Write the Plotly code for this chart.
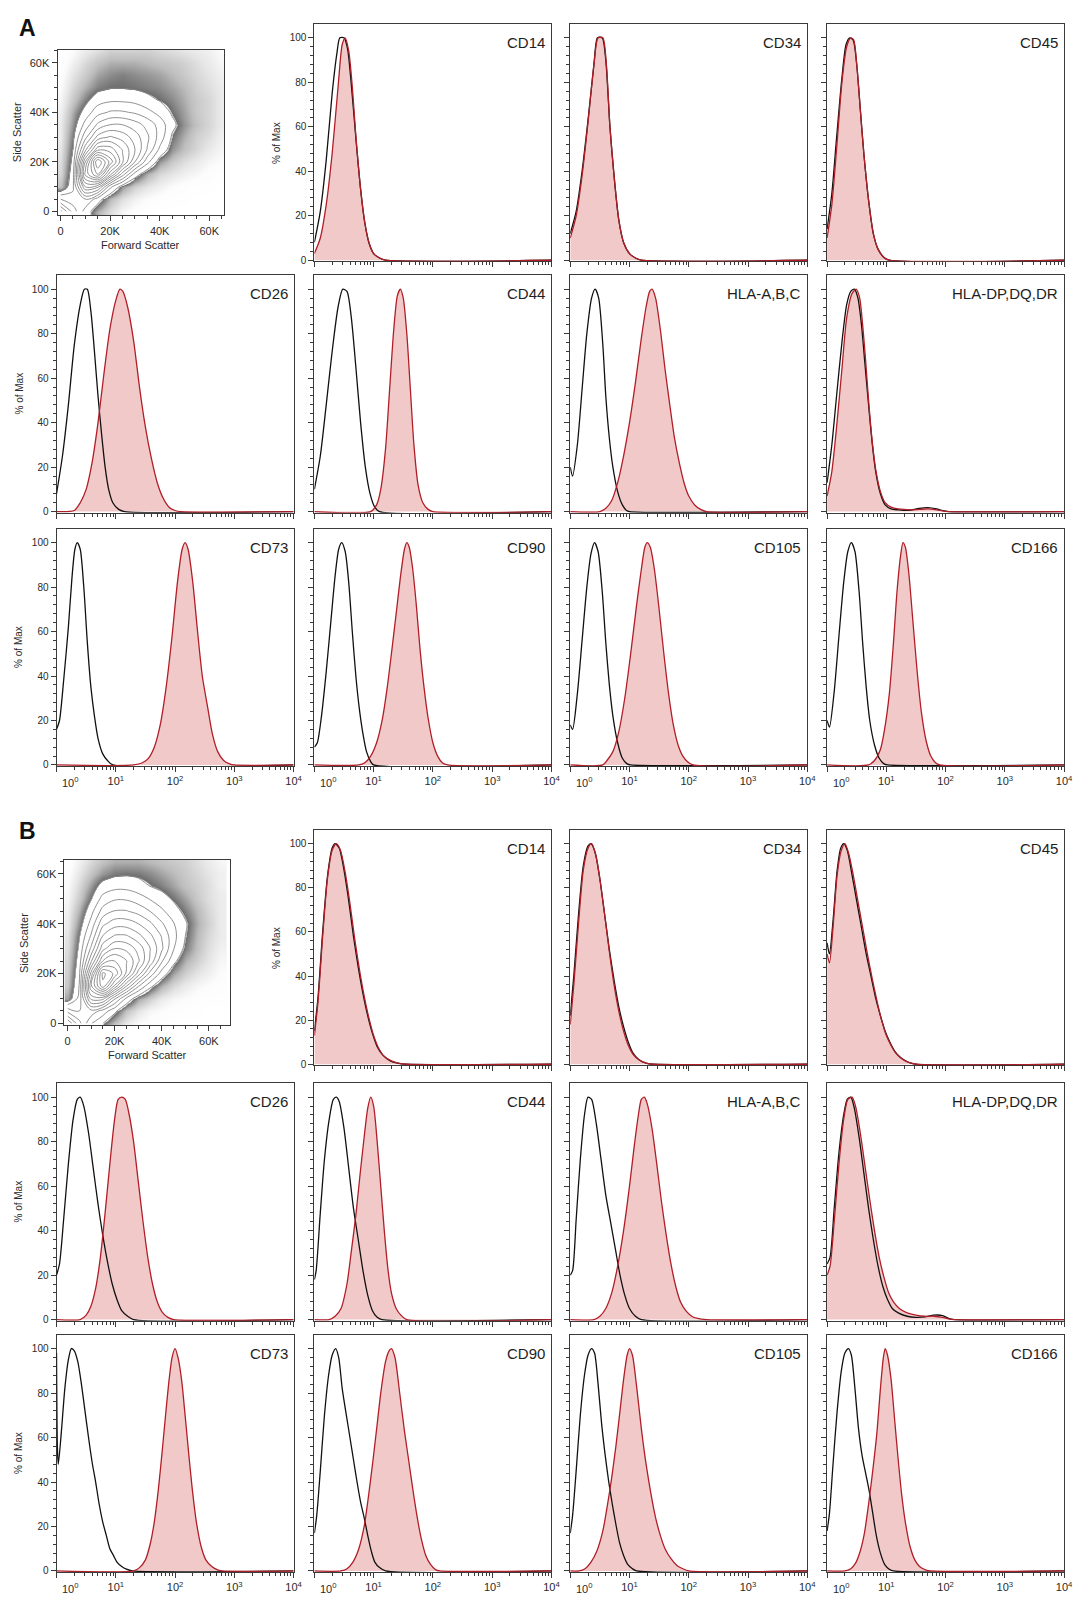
import plotly.graph_objects as go

# ---------------------------------------------------------------- data
DECADE_TICKS = [1, 10, 100, 1000, 10000]
DECADE_LABELS = ["10<sup>0</sup>", "10<sup>1</sup>", "10<sup>2</sup>", "10<sup>3</sup>", "10<sup>4</sup>"]
PCT_TICKS = [0, 20, 40, 60, 80, 100]
PCT_MINOR = [v for v in range(4, 104, 4) if v % 20]
SCATTER_TICKS = [0, 20000, 40000, 60000]
SCATTER_LABELS = ["0", "20K", "40K", "60K"]
SCATTER_MINOR = [v for v in range(5000, 70000, 5000) if v % 20000]
LOG_MINOR = [m * 10 ** d for d in range(4) for m in range(2, 10)]

MARKER_GRID = [["", "CD14", "CD34", "CD45"],
               ["CD26", "CD44", "HLA-A,B,C", "HLA-DP,DQ,DR"],
               ["CD73", "CD90", "CD105", "CD166"]]

# scatter density (rows: side scatter 0..65K, columns: forward scatter 0..65K)
FSC_K = [0, 5, 10, 15, 20, 25, 30, 35, 40, 45, 50, 55, 60, 65]
SSC_K = [0, 5, 10, 15, 20, 25, 30, 35, 40, 45, 50, 55, 60, 65]
A_DENSITY = [
    [6.0, 4.0, 2.4, 1.4, 0.8, 0.4, 0.2, 0.1, 0.0, 0.0, 0.0, 0.0, 0.0, 0.0],
    [3.5, 3.0, 3.5, 2.4, 1.3, 0.8, 0.5, 0.3, 0.2, 0.1, 0.1, 0.0, 0.0, 0.0],
    [1.2, 2.6, 6.5, 6.0, 3.0, 1.6, 1.0, 0.7, 0.5, 0.3, 0.2, 0.1, 0.1, 0.0],
    [0.9, 2.4, 9.0, 11.0, 7.5, 4.6, 2.4, 1.4, 0.9, 0.7, 0.5, 0.4, 0.2, 0.1],
    [0.8, 2.2, 8.0, 12.5, 10.0, 7.4, 5.0, 3.0, 1.6, 1.1, 0.8, 0.6, 0.4, 0.3],
    [0.7, 2.0, 5.5, 8.5, 8.4, 7.2, 5.8, 4.2, 2.6, 1.6, 1.2, 0.9, 0.6, 0.4],
    [0.6, 1.8, 4.0, 6.0, 6.6, 6.2, 5.4, 4.4, 3.2, 1.9, 1.4, 1.0, 0.8, 0.5],
    [0.6, 1.6, 3.0, 4.4, 5.0, 5.0, 4.6, 4.0, 3.2, 2.2, 1.6, 1.2, 0.9, 0.6],
    [0.5, 1.4, 2.3, 3.2, 3.6, 3.6, 3.4, 3.0, 2.5, 1.9, 1.5, 1.1, 0.9, 0.6],
    [0.4, 1.1, 1.8, 2.4, 2.6, 2.6, 2.5, 2.2, 1.95, 1.7, 1.4, 1.1, 0.9, 0.6],
    [0.3, 0.9, 1.4, 1.8, 1.95, 1.95, 1.9, 1.8, 1.7, 1.5, 1.3, 1.0, 0.8, 0.6],
    [0.2, 0.7, 1.1, 1.5, 1.7, 1.8, 1.7, 1.6, 1.5, 1.3, 1.1, 0.9, 0.7, 0.5],
    [0.1, 0.5, 0.9, 1.2, 1.4, 1.4, 1.4, 1.3, 1.2, 1.1, 1.0, 0.8, 0.6, 0.4],
    [0.0, 0.3, 0.6, 0.8, 1.0, 1.0, 1.0, 1.0, 0.9, 0.8, 0.7, 0.6, 0.5, 0.3],
]
B_DENSITY = [
    [6.5, 4.5, 2.8, 2.0, 1.2, 0.6, 0.3, 0.2, 0.1, 0.0, 0.0, 0.0, 0.0, 0.0],
    [4.0, 3.5, 4.0, 3.2, 2.2, 1.2, 0.7, 0.4, 0.3, 0.2, 0.1, 0.1, 0.0, 0.0],
    [1.5, 3.0, 6.8, 6.8, 4.4, 2.6, 1.5, 1.0, 0.6, 0.4, 0.3, 0.2, 0.1, 0.1],
    [1.1, 2.8, 8.6, 11.5, 8.6, 5.8, 3.6, 2.2, 1.4, 0.9, 0.6, 0.4, 0.3, 0.2],
    [1.0, 2.6, 7.5, 12.0, 10.8, 8.6, 6.2, 4.0, 2.4, 1.5, 1.0, 0.7, 0.5, 0.3],
    [0.9, 2.4, 5.6, 8.8, 9.6, 8.8, 7.4, 5.6, 3.6, 2.2, 1.4, 1.0, 0.7, 0.4],
    [0.8, 2.2, 4.4, 7.0, 8.0, 7.8, 7.0, 5.8, 4.4, 2.8, 1.8, 1.2, 0.8, 0.5],
    [0.7, 2.0, 3.6, 5.8, 6.6, 6.6, 6.0, 5.2, 4.2, 3.0, 2.0, 1.3, 0.9, 0.6],
    [0.6, 1.7, 3.0, 4.8, 5.4, 5.4, 5.0, 4.4, 3.6, 2.8, 2.1, 1.4, 1.0, 0.6],
    [0.5, 1.4, 2.5, 3.8, 4.3, 4.3, 4.0, 3.5, 2.9, 2.3, 1.8, 1.3, 0.9, 0.6],
    [0.4, 1.1, 2.0, 3.0, 3.4, 3.4, 3.1, 2.7, 2.3, 1.9, 1.5, 1.1, 0.8, 0.6],
    [0.3, 0.9, 1.6, 2.3, 2.5, 2.5, 2.3, 2.0, 1.8, 1.5, 1.2, 1.0, 0.8, 0.5],
    [0.2, 0.7, 1.2, 1.6, 1.85, 1.9, 1.85, 1.7, 1.5, 1.3, 1.1, 0.9, 0.7, 0.5],
    [0.1, 0.5, 0.9, 1.2, 1.4, 1.4, 1.4, 1.3, 1.2, 1.1, 1.0, 0.8, 0.6, 0.4],
]

# histograms: (log10 fluorescence, % of max) ; ISO = isotype control, STAIN = antibody
A_CD14_ISO = [(0, 8), (0.1, 22), (0.2, 45), (0.3, 75), (0.38, 93), (0.43, 100), (0.5, 100), (0.56, 95), (0.62, 80), (0.7, 55), (0.78, 32), (0.85, 17), (0.92, 8), (1.0, 3), (1.1, 1), (1.2, 0), (4, 0)]
A_CD14_STAIN = [(0, 3), (0.1, 10), (0.2, 25), (0.3, 48), (0.4, 78), (0.47, 97), (0.52, 100), (0.58, 94), (0.64, 78), (0.7, 56), (0.78, 32), (0.85, 17), (0.92, 8), (1.0, 3), (1.1, 1), (1.2, 0), (4, 0)]
A_CD34_ISO = [(0, 12), (0.1, 22), (0.2, 40), (0.3, 63), (0.4, 88), (0.46, 100), (0.54, 100), (0.6, 90), (0.67, 60), (0.75, 35), (0.82, 18), (0.9, 8), (1.0, 3), (1.1, 1), (1.2, 0), (4, 0)]
A_CD34_STAIN = [(0, 10), (0.1, 20), (0.2, 38), (0.3, 62), (0.4, 88), (0.47, 100), (0.55, 100), (0.61, 88), (0.67, 60), (0.75, 35), (0.82, 18), (0.9, 8), (1.0, 3), (1.1, 1), (1.2, 0), (4, 0)]
A_CD45_ISO = [(0, 14), (0.08, 30), (0.16, 55), (0.25, 82), (0.32, 97), (0.38, 100), (0.44, 99), (0.5, 88), (0.56, 68), (0.62, 48), (0.7, 27), (0.78, 12), (0.86, 5), (0.95, 1.5), (1.05, 0), (4, 0)]
A_CD45_STAIN = [(0, 10), (0.08, 25), (0.16, 50), (0.25, 80), (0.33, 96), (0.4, 100), (0.45, 99), (0.5, 88), (0.56, 68), (0.62, 48), (0.7, 27), (0.78, 12), (0.86, 5), (0.95, 1.5), (1.05, 0), (4, 0)]
A_CD26_ISO = [(0, 8), (0.1, 25), (0.2, 48), (0.3, 75), (0.4, 93), (0.47, 100), (0.52, 100), (0.58, 90), (0.64, 72), (0.7, 52), (0.76, 35), (0.82, 20), (0.88, 10), (0.95, 4), (1.05, 1), (1.15, 0), (4, 0)]
A_CD26_STAIN = [(0, 0), (0.3, 0.5), (0.4, 4), (0.5, 10), (0.6, 22), (0.7, 40), (0.8, 62), (0.9, 82), (1.0, 95), (1.07, 100), (1.12, 99), (1.2, 92), (1.3, 77), (1.4, 56), (1.5, 38), (1.6, 24), (1.7, 13), (1.8, 6), (1.9, 2), (2.0, 0.5), (2.1, 0), (4, 0)]
A_CD44_ISO = [(0, 10), (0.1, 25), (0.2, 48), (0.3, 72), (0.4, 92), (0.48, 100), (0.55, 99), (0.62, 88), (0.7, 65), (0.78, 40), (0.86, 20), (0.94, 8), (1.02, 2), (1.1, 0), (4, 0)]
A_CD44_STAIN = [(0, 0), (0.95, 0), (1.05, 3), (1.12, 10), (1.2, 28), (1.27, 55), (1.34, 82), (1.4, 97), (1.45, 100), (1.5, 96), (1.56, 80), (1.62, 55), (1.68, 30), (1.75, 12), (1.83, 4), (1.92, 1), (2.0, 0), (4, 0)]
A_HLAABC_ISO = [(0, 20), (0.04, 16), (0.12, 30), (0.2, 55), (0.28, 80), (0.36, 96), (0.42, 100), (0.48, 96), (0.55, 75), (0.6, 52), (0.66, 33), (0.72, 20), (0.8, 9), (0.88, 3), (0.95, 0.5), (1.0, 0), (4, 0)]
A_HLAABC_STAIN = [(0, 0), (0.5, 0), (0.6, 1.5), (0.7, 5), (0.8, 13), (0.9, 25), (1.0, 40), (1.1, 58), (1.2, 78), (1.28, 92), (1.34, 99), (1.38, 100), (1.44, 96), (1.52, 82), (1.6, 64), (1.68, 48), (1.76, 33), (1.84, 22), (1.92, 13), (2.0, 7), (2.1, 3), (2.2, 1), (2.3, 0), (4, 0)]
A_HLADR_ISO = [(0, 13), (0.08, 30), (0.16, 52), (0.25, 76), (0.33, 93), (0.4, 99), (0.46, 100), (0.52, 96), (0.58, 84), (0.64, 66), (0.7, 48), (0.76, 31), (0.82, 18), (0.9, 8), (0.98, 3), (1.08, 1.2), (1.2, 0.8), (1.4, 0.6), (1.55, 1.4), (1.7, 1.8), (1.85, 1.2), (1.95, 0.4), (2.05, 0), (4, 0)]
A_HLADR_STAIN = [(0, 7), (0.08, 18), (0.16, 38), (0.25, 64), (0.33, 87), (0.42, 98), (0.49, 100), (0.55, 96), (0.6, 84), (0.65, 68), (0.7, 50), (0.76, 32), (0.82, 19), (0.9, 9), (0.98, 4), (1.08, 2), (1.2, 1.2), (1.4, 0.8), (1.55, 1), (1.7, 1.2), (1.85, 0.8), (1.95, 0.3), (2.05, 0), (4, 0)]
A_CD73_ISO = [(0, 16), (0.05, 20), (0.12, 38), (0.2, 62), (0.26, 84), (0.31, 97), (0.35, 100), (0.4, 97), (0.46, 80), (0.52, 55), (0.58, 35), (0.64, 22), (0.7, 12), (0.78, 5), (0.86, 2), (0.95, 0), (4, 0)]
A_CD73_STAIN = [(0, 0), (1.3, 0), (1.45, 1), (1.55, 3), (1.65, 8), (1.75, 18), (1.85, 35), (1.95, 58), (2.04, 82), (2.12, 97), (2.17, 100), (2.22, 97), (2.3, 82), (2.38, 60), (2.46, 40), (2.55, 26), (2.63, 14), (2.72, 6), (2.82, 2), (2.92, 0.5), (3.0, 0), (4, 0)]
A_CD90_ISO = [(0, 8), (0.05, 10), (0.12, 22), (0.2, 42), (0.28, 65), (0.35, 85), (0.41, 97), (0.46, 100), (0.52, 96), (0.58, 82), (0.64, 60), (0.7, 40), (0.76, 25), (0.82, 14), (0.88, 6), (0.95, 1.5), (1.0, 0), (4, 0)]
A_CD90_STAIN = [(0, 0), (0.75, 0), (0.85, 1), (0.95, 4), (1.05, 10), (1.15, 21), (1.23, 35), (1.3, 50), (1.38, 68), (1.45, 84), (1.52, 97), (1.56, 100), (1.6, 98), (1.66, 88), (1.72, 72), (1.78, 53), (1.85, 35), (1.92, 21), (2.0, 10), (2.08, 4), (2.16, 1), (2.25, 0), (4, 0)]
A_CD105_ISO = [(0, 18), (0.04, 16), (0.12, 32), (0.2, 56), (0.28, 80), (0.35, 95), (0.41, 100), (0.47, 96), (0.54, 78), (0.6, 55), (0.66, 36), (0.72, 22), (0.8, 10), (0.88, 3), (0.96, 0.5), (1.02, 0), (4, 0)]
A_CD105_STAIN = [(0, 0), (0.55, 0), (0.62, 2), (0.72, 6), (0.82, 15), (0.92, 30), (1.02, 50), (1.12, 72), (1.2, 88), (1.26, 98), (1.3, 100), (1.35, 98), (1.42, 88), (1.5, 70), (1.58, 50), (1.66, 32), (1.74, 18), (1.82, 9), (1.9, 4), (1.98, 1.5), (2.07, 0), (4, 0)]
A_CD166_ISO = [(0, 20), (0.04, 17), (0.12, 33), (0.2, 58), (0.28, 82), (0.35, 96), (0.41, 100), (0.47, 96), (0.54, 78), (0.6, 55), (0.66, 35), (0.72, 20), (0.8, 9), (0.88, 3), (0.96, 0.5), (1.02, 0), (4, 0)]
A_CD166_STAIN = [(0, 0), (0.7, 0), (0.8, 2), (0.9, 7), (0.97, 16), (1.05, 32), (1.12, 55), (1.18, 78), (1.24, 94), (1.28, 100), (1.32, 98), (1.38, 86), (1.45, 64), (1.52, 42), (1.59, 24), (1.67, 11), (1.75, 4), (1.83, 1), (1.9, 0), (4, 0)]

B_CD14_ISO = [(0, 15), (0.06, 30), (0.14, 60), (0.22, 85), (0.3, 98), (0.35, 100), (0.42, 98), (0.5, 88), (0.58, 74), (0.66, 58), (0.74, 44), (0.82, 32), (0.9, 22), (0.98, 14), (1.06, 8), (1.16, 4), (1.28, 1.5), (1.4, 0.5), (1.55, 0), (4, 0)]
B_CD14_STAIN = [(0, 13), (0.06, 28), (0.14, 58), (0.22, 84), (0.3, 97), (0.37, 100), (0.44, 97), (0.52, 87), (0.6, 73), (0.68, 57), (0.76, 43), (0.84, 31), (0.92, 21), (1.0, 13), (1.08, 7.5), (1.18, 3.5), (1.3, 1.5), (1.42, 0.5), (1.55, 0), (4, 0)]
B_CD34_ISO = [(0, 22), (0.06, 40), (0.14, 68), (0.22, 90), (0.3, 99), (0.35, 100), (0.42, 96), (0.5, 84), (0.58, 68), (0.66, 52), (0.74, 38), (0.82, 26), (0.9, 17), (0.98, 10), (1.06, 5), (1.16, 2), (1.28, 0.5), (1.4, 0), (4, 0)]
B_CD34_STAIN = [(0, 18), (0.06, 36), (0.14, 64), (0.22, 88), (0.3, 98), (0.36, 100), (0.43, 95), (0.5, 84), (0.58, 68), (0.66, 51), (0.74, 36), (0.82, 24), (0.9, 15), (0.98, 8.5), (1.06, 4.5), (1.16, 2), (1.28, 0.5), (1.4, 0), (4, 0)]
B_CD45_ISO = [(0, 55), (0.04, 50), (0.1, 65), (0.17, 88), (0.23, 98), (0.28, 100), (0.34, 97), (0.42, 86), (0.5, 74), (0.58, 62), (0.66, 50), (0.74, 40), (0.82, 30), (0.9, 22), (0.98, 15), (1.06, 10), (1.14, 6), (1.24, 3), (1.36, 1), (1.5, 0), (4, 0)]
B_CD45_STAIN = [(0, 50), (0.04, 46), (0.1, 62), (0.17, 86), (0.24, 97), (0.3, 100), (0.36, 96), (0.44, 86), (0.52, 74), (0.6, 62), (0.68, 50), (0.76, 39), (0.84, 29), (0.92, 20), (1.0, 13), (1.08, 8.5), (1.16, 5), (1.26, 2.5), (1.38, 0.8), (1.5, 0), (4, 0)]
B_CD26_ISO = [(0, 20), (0.05, 25), (0.12, 45), (0.2, 70), (0.28, 90), (0.35, 99), (0.4, 100), (0.46, 96), (0.54, 84), (0.62, 68), (0.7, 52), (0.78, 38), (0.86, 26), (0.94, 16), (1.02, 9), (1.1, 4), (1.2, 1.5), (1.3, 0), (4, 0)]
B_CD26_STAIN = [(0, 0), (0.4, 0), (0.5, 2), (0.58, 6), (0.66, 14), (0.74, 28), (0.82, 48), (0.9, 70), (0.98, 90), (1.04, 99), (1.1, 100), (1.16, 99), (1.22, 93), (1.3, 80), (1.38, 62), (1.46, 44), (1.54, 28), (1.62, 16), (1.7, 8), (1.78, 3.5), (1.88, 1), (1.98, 0), (4, 0)]
B_CD44_ISO = [(0, 18), (0.03, 22), (0.1, 48), (0.17, 72), (0.25, 90), (0.32, 99), (0.37, 100), (0.42, 98), (0.5, 86), (0.58, 68), (0.66, 50), (0.74, 36), (0.82, 22), (0.9, 11), (0.98, 4), (1.06, 1), (1.14, 0), (4, 0)]
B_CD44_STAIN = [(0, 0), (0.25, 0), (0.35, 1.5), (0.45, 5), (0.55, 16), (0.62, 30), (0.7, 47), (0.77, 65), (0.84, 82), (0.9, 95), (0.95, 100), (1.0, 96), (1.06, 80), (1.12, 60), (1.18, 40), (1.24, 23), (1.3, 12), (1.38, 5), (1.46, 2), (1.56, 0), (4, 0)]
B_HLAABC_ISO = [(0, 20), (0.04, 22), (0.1, 45), (0.17, 72), (0.24, 92), (0.3, 100), (0.36, 99), (0.44, 88), (0.52, 72), (0.6, 56), (0.68, 44), (0.76, 32), (0.84, 20), (0.92, 11), (1.0, 5), (1.1, 1.5), (1.2, 0), (4, 0)]
B_HLAABC_STAIN = [(0, 0), (0.4, 0), (0.5, 1.5), (0.6, 5), (0.7, 12), (0.8, 24), (0.9, 40), (1.0, 60), (1.08, 78), (1.15, 92), (1.2, 99), (1.25, 100), (1.3, 97), (1.38, 86), (1.46, 70), (1.54, 53), (1.62, 38), (1.7, 25), (1.78, 15), (1.86, 8), (1.95, 4), (2.05, 1.5), (2.15, 0.5), (2.3, 0), (4, 0)]
B_HLADR_ISO = [(0, 25), (0.05, 28), (0.12, 50), (0.2, 75), (0.28, 92), (0.34, 99), (0.4, 100), (0.46, 95), (0.54, 82), (0.62, 66), (0.7, 50), (0.78, 36), (0.86, 24), (0.94, 15), (1.02, 9), (1.1, 5), (1.2, 3), (1.35, 1.5), (1.5, 1), (1.65, 1.2), (1.8, 2), (1.95, 1.8), (2.05, 0.5), (2.15, 0), (4, 0)]
B_HLADR_STAIN = [(0, 20), (0.05, 24), (0.12, 44), (0.2, 70), (0.28, 90), (0.35, 99), (0.42, 100), (0.48, 96), (0.56, 84), (0.64, 69), (0.72, 54), (0.8, 40), (0.88, 28), (0.96, 19), (1.04, 12), (1.12, 8), (1.22, 5), (1.35, 3), (1.5, 2), (1.65, 1.5), (1.8, 1.5), (1.95, 1), (2.05, 0.3), (2.15, 0), (4, 0)]
B_CD73_ISO = [(0, 98), (0.015, 55), (0.03, 48), (0.08, 62), (0.14, 82), (0.2, 95), (0.25, 100), (0.3, 99), (0.36, 94), (0.42, 84), (0.48, 72), (0.54, 60), (0.6, 49), (0.66, 40), (0.72, 30), (0.78, 22), (0.84, 16), (0.9, 10), (0.96, 7), (1.02, 4), (1.1, 2), (1.18, 0.8), (1.28, 0), (4, 0)]
B_CD73_STAIN = [(0, 0), (1.3, 0), (1.4, 1.5), (1.5, 5), (1.58, 12), (1.65, 22), (1.72, 37), (1.78, 53), (1.84, 70), (1.9, 86), (1.95, 96), (2.0, 100), (2.05, 96), (2.11, 86), (2.17, 70), (2.23, 53), (2.29, 37), (2.36, 22), (2.44, 11), (2.52, 5), (2.62, 2), (2.72, 0.5), (2.8, 0), (4, 0)]
B_CD90_ISO = [(0, 17), (0.04, 25), (0.1, 45), (0.17, 70), (0.24, 88), (0.3, 97), (0.36, 100), (0.41, 96), (0.47, 82), (0.54, 70), (0.6, 60), (0.66, 50), (0.72, 40), (0.78, 31), (0.84, 24), (0.9, 16), (0.96, 9), (1.02, 4), (1.1, 1.5), (1.2, 0), (4, 0)]
B_CD90_STAIN = [(0, 0), (0.45, 0), (0.55, 1), (0.65, 4), (0.75, 10), (0.84, 20), (0.92, 35), (0.99, 50), (1.06, 66), (1.12, 80), (1.2, 94), (1.26, 99), (1.3, 100), (1.36, 96), (1.44, 80), (1.52, 63), (1.59, 50), (1.66, 37), (1.73, 25), (1.8, 15), (1.88, 7), (1.96, 3), (2.05, 0.5), (2.12, 0), (4, 0)]
B_CD105_ISO = [(0, 17), (0.04, 25), (0.1, 45), (0.17, 70), (0.24, 88), (0.3, 97), (0.36, 100), (0.41, 98), (0.47, 84), (0.53, 66), (0.59, 52), (0.65, 40), (0.71, 30), (0.77, 21), (0.83, 13), (0.9, 7), (0.97, 3), (1.05, 1), (1.12, 0), (4, 0)]
B_CD105_STAIN = [(0, 0), (0.15, 0), (0.25, 1), (0.35, 4), (0.45, 9), (0.55, 18), (0.63, 30), (0.7, 42), (0.77, 56), (0.84, 72), (0.9, 86), (0.96, 97), (1.0, 100), (1.05, 97), (1.12, 83), (1.2, 64), (1.28, 48), (1.36, 35), (1.44, 24), (1.52, 16), (1.6, 10), (1.7, 5.5), (1.8, 2.5), (1.9, 1), (2.0, 0), (4, 0)]
B_CD166_ISO = [(0, 18), (0.04, 26), (0.1, 48), (0.17, 72), (0.24, 90), (0.3, 98), (0.36, 100), (0.41, 97), (0.47, 82), (0.53, 64), (0.59, 52), (0.65, 44), (0.71, 36), (0.77, 26), (0.83, 16), (0.9, 8), (0.97, 3), (1.05, 0.8), (1.12, 0), (4, 0)]
B_CD166_STAIN = [(0, 0), (0.3, 0), (0.4, 1), (0.48, 3.5), (0.56, 9), (0.63, 17), (0.7, 30), (0.77, 45), (0.84, 62), (0.9, 82), (0.95, 96), (0.98, 100), (1.02, 97), (1.08, 86), (1.14, 68), (1.2, 50), (1.26, 34), (1.32, 22), (1.4, 11), (1.48, 5), (1.56, 2), (1.66, 0.5), (1.75, 0), (4, 0)]

CURVES = {
    "A": {"CD14": (A_CD14_ISO, A_CD14_STAIN), "CD34": (A_CD34_ISO, A_CD34_STAIN),
          "CD45": (A_CD45_ISO, A_CD45_STAIN), "CD26": (A_CD26_ISO, A_CD26_STAIN),
          "CD44": (A_CD44_ISO, A_CD44_STAIN), "HLA-A,B,C": (A_HLAABC_ISO, A_HLAABC_STAIN),
          "HLA-DP,DQ,DR": (A_HLADR_ISO, A_HLADR_STAIN), "CD73": (A_CD73_ISO, A_CD73_STAIN),
          "CD90": (A_CD90_ISO, A_CD90_STAIN), "CD105": (A_CD105_ISO, A_CD105_STAIN),
          "CD166": (A_CD166_ISO, A_CD166_STAIN)},
    "B": {"CD14": (B_CD14_ISO, B_CD14_STAIN), "CD34": (B_CD34_ISO, B_CD34_STAIN),
          "CD45": (B_CD45_ISO, B_CD45_STAIN), "CD26": (B_CD26_ISO, B_CD26_STAIN),
          "CD44": (B_CD44_ISO, B_CD44_STAIN), "HLA-A,B,C": (B_HLAABC_ISO, B_HLAABC_STAIN),
          "HLA-DP,DQ,DR": (B_HLADR_ISO, B_HLADR_STAIN), "CD73": (B_CD73_ISO, B_CD73_STAIN),
          "CD90": (B_CD90_ISO, B_CD90_STAIN), "CD105": (B_CD105_ISO, B_CD105_STAIN),
          "CD166": (B_CD166_ISO, B_CD166_STAIN)},
}
DENSITY = {"A": A_DENSITY, "B": B_DENSITY}

# ---------------------------------------------------------------- layout / style
W, H = 1087, 1603
FONT = "Liberation Sans, Arial, Helvetica, sans-serif"
AX = "#3a3a3a"
TXT = "#2a2a2a"
FILL = "#f1c9c9"
RED = "#b01e28"
BLACK = "#111111"
COL_LEFT = [57, 317, 575, 834]
COL_W = 239
ROWS = {"A": [(24, 262), (276, 514), (530, 768)],
        "B": [(832, 1068), (1086, 1324), (1338, 1576)]}
SCAT_BOX = {"A": (58, 226, 50, 216), "B": (65, 232, 862, 1028)}
SCAT_RANGE = {"A": ([-1200, 66000], [-1600, 65200]), "B": ([-1300, 69000], [-800, 65600])}
LETTER_Y = {"A": 13, "B": 818}
DOT_SCALE = [[0, "#ffffff"], [0.3 / 14, "#fcfcfc"], [0.7 / 14, "#e6e6e6"], [1.3 / 14, "#bcbcbc"],
             [1.97 / 14, "#6c6c6c"], [2.0 / 14, "#ffffff"], [1, "#ffffff"]]


def px(v):
    return v / W


def py(v):
    return 1 - v / H


def ax_name(n, letter):
    return letter if n == 1 else f"{letter}{n}"


def base_axis():
    return dict(showline=True, mirror=True, linecolor=AX, linewidth=1, ticks="outside",
                tickcolor=AX, tickwidth=1, ticklen=5, showgrid=False, zeroline=False,
                tickfont=dict(family=FONT, size=10, color=TXT), fixedrange=True)


fig = go.Figure()
layout_axes = {}
annotations = []
n = 0

for sec in ["A", "B"]:
    annotations.append(dict(text=f"<b>{sec}</b>", xref="paper", yref="paper", x=px(17), y=py(LETTER_Y[sec]),
                            xanchor="left", yanchor="top", showarrow=False,
                            font=dict(family=FONT, size=23, color="#111")))
    # ---- scatter / contour panel
    n += 1
    xn, yn = ax_name(n, "x"), ax_name(n, "y")
    l, r, t, b = SCAT_BOX[sec]
    fsc = [k * 1000 for k in FSC_K]
    ssc = [k * 1000 for k in SSC_K]
    fig.add_trace(go.Heatmap(x=fsc, y=ssc, z=DENSITY[sec], zsmooth="best", zmin=0, zmax=14,
                             colorscale=DOT_SCALE, showscale=False, hoverinfo="skip",
                             xaxis=xn, yaxis=yn))
    fig.add_trace(go.Contour(x=fsc, y=ssc, z=DENSITY[sec], showscale=False, hoverinfo="skip",
                             contours=dict(start=2, end=14, size=0.75, coloring="lines"),
                             colorscale=[[0, "#858585"], [1, "#858585"]],
                             line=dict(width=0.9, smoothing=1.0), xaxis=xn, yaxis=yn))
    xa = base_axis()
    xa.update(domain=[px(l), px(r)], anchor=yn, range=SCAT_RANGE[sec][0], tickmode="array",
              tickvals=SCATTER_TICKS, ticktext=SCATTER_LABELS, tickfont=dict(family=FONT, size=11, color=TXT),
              minor=dict(tickmode="array", tickvals=SCATTER_MINOR, ticks="outside", ticklen=3, tickcolor=AX))
    ya = base_axis()
    ya.update(domain=[py(b), py(t)], anchor=xn, range=SCAT_RANGE[sec][1], tickmode="array",
              tickvals=SCATTER_TICKS, ticktext=SCATTER_LABELS, tickfont=dict(family=FONT, size=11, color=TXT),
              minor=dict(tickmode="array", tickvals=SCATTER_MINOR, ticks="outside", ticklen=3, tickcolor=AX))
    layout_axes["xaxis" if n == 1 else f"xaxis{n}"] = xa
    layout_axes["yaxis" if n == 1 else f"yaxis{n}"] = ya
    dref_x, dref_y = f"{xn} domain", f"{yn} domain"
    annotations.append(dict(text="Forward Scatter", xref=dref_x, yref=dref_y, x=0.5, y=0, yshift=-30,
                            xanchor="center", yanchor="middle", showarrow=False,
                            font=dict(family=FONT, size=11, color=TXT)))
    annotations.append(dict(text="Side Scatter", xref=dref_x, yref=dref_y, x=0, y=0.5, xshift=-41,
                            xanchor="center", yanchor="middle", textangle=-90, showarrow=False,
                            font=dict(family=FONT, size=11, color=TXT)))

    # ---- histogram panels
    for ri, row in enumerate(MARKER_GRID):
        top, bot = ROWS[sec][ri]
        for ci, name in enumerate(row):
            if not name:
                continue
            n += 1
            xn, yn = ax_name(n, "x"), ax_name(n, "y")
            iso, stain = CURVES[sec][name]
            ix = [10 ** p[0] for p in iso]
            iy = [p[1] for p in iso]
            sx = [10 ** p[0] for p in stain]
            sy = [p[1] for p in stain]
            fig.add_trace(go.Scatter(x=sx, y=sy, mode="lines", fill="tozeroy", fillcolor=FILL,
                                     line=dict(width=0, color=FILL, shape="spline", smoothing=0.7),
                                     hoverinfo="skip", xaxis=xn, yaxis=yn))
            fig.add_trace(go.Scatter(x=ix, y=iy, mode="lines",
                                     line=dict(width=1.3, color=BLACK, shape="spline", smoothing=0.7),
                                     hoverinfo="skip", xaxis=xn, yaxis=yn))
            fig.add_trace(go.Scatter(x=sx, y=sy, mode="lines",
                                     line=dict(width=1.3, color=RED, shape="spline", smoothing=0.7),
                                     hoverinfo="skip", xaxis=xn, yaxis=yn))
            left_most = (ci == 0) or (ri == 0 and ci == 1)
            bottom = ri == 2
            l = COL_LEFT[ci]
            xa = base_axis()
            xa.update(type="log", range=[0, 4], domain=[px(l), px(l + COL_W)], anchor=yn,
                      tickmode="array", tickvals=DECADE_TICKS,
                      ticktext=[""] + DECADE_LABELS[1:],
                      showticklabels=bottom, layer="below traces",
                      tickfont=dict(family=FONT, size=11, color=TXT),
                      minor=dict(tickmode="array", tickvals=LOG_MINOR, ticks="outside", ticklen=3,
                                 tickcolor=AX))
            ya = base_axis()
            ya.update(range=[-0.5, 106.25], domain=[py(bot), py(top)], anchor=xn, tickmode="array",
                      tickvals=PCT_TICKS, showticklabels=left_most, layer="below traces",
                      minor=dict(tickmode="array", tickvals=PCT_MINOR, ticks="outside", ticklen=3,
                                 tickcolor=AX))
            layout_axes[f"xaxis{n}"] = xa
            layout_axes[f"yaxis{n}"] = ya
            dref_x, dref_y = f"{xn} domain", f"{yn} domain"
            if bottom:
                # first decade label sits right of the axis corner, as in the original
                annotations.append(dict(text=DECADE_LABELS[0], xref=xn, yref=dref_y, x=0, y=0,
                                        xshift=14, yshift=-16, xanchor="center", yanchor="middle",
                                        showarrow=False, font=dict(family=FONT, size=11, color=TXT)))
            annotations.append(dict(text=name, xref=dref_x, yref=dref_y, x=1, y=1, xshift=-4, yshift=-8,
                                    xanchor="right", yanchor="top", showarrow=False,
                                    font=dict(family=FONT, size=15, color="#1e1e1e")))
            if left_most:
                annotations.append(dict(text="% of Max", xref=dref_x, yref=dref_y, x=0, y=0.5, xshift=-38,
                                        xanchor="center", yanchor="middle", textangle=-90,
                                        showarrow=False, font=dict(family=FONT, size=10, color=TXT)))

fig.update_layout(width=W, height=H, autosize=False, margin=dict(l=0, r=0, t=0, b=0),
                  paper_bgcolor="white", plot_bgcolor="white", showlegend=False,
                  hovermode=False, annotations=annotations, **layout_axes)

fig.write_html("out.html", config={"displayModeBar": False, "staticPlot": True},
               post_script="document.body.style.margin='0';")
